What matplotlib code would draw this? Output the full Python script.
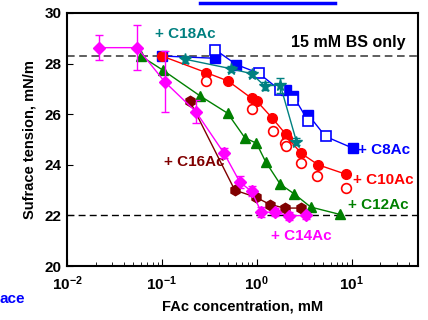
import matplotlib
matplotlib.use('Agg')
import matplotlib.pyplot as plt
from matplotlib.lines import Line2D

plt.rcParams['font.family'] = ['Liberation Sans', 'DejaVu Sans']
plt.rcParams['font.weight'] = 'bold'
plt.rcParams['mathtext.fontset'] = 'custom'
plt.rcParams['mathtext.rm'] = 'Liberation Sans:bold'
plt.rcParams['mathtext.bf'] = 'Liberation Sans:bold'

# C8Ac (filled and open squares, one line through all)
c8_x_f = [0.1, 0.367, 0.61, 2.05, 2.42, 3.5, 10.4]
c8_y_f = [28.3, 28.21, 27.96, 26.97, 26.72, 25.97, 24.65]
c8_x_o = [0.367, 1.05, 1.75, 2.42, 3.5, 5.3]
c8_y_o = [28.54, 27.62, 26.95, 26.56, 25.72, 25.12]

# C10Ac (filled circles joined, open circles alone)
c10_x_f = [0.1, 0.295, 0.5, 0.88, 1.0, 1.46, 2.03, 2.1, 2.95, 4.43, 8.8]
c10_y_f = [28.3, 27.64, 27.31, 26.63, 26.52, 25.84, 25.2, 25.07, 24.45, 24.0, 23.62]
c10_x_o = [0.29, 0.88, 1.49, 1.97, 2.03, 2.9, 4.3, 8.8]
c10_y_o = [27.33, 26.2, 25.34, 24.85, 24.75, 24.08, 23.55, 23.07]

# C12Ac
c12_x = [0.06, 0.1016, 0.251, 0.492, 0.748, 0.993, 1.24, 1.77, 2.46, 3.7, 7.5]
c12_y = [28.3, 27.75, 26.73, 26.04, 25.07, 24.85, 24.12, 23.23, 22.86, 22.33, 22.04]

# C14Ac with error bars
c14_x = [0.0217, 0.055, 0.107, 0.228, 0.453, 0.662, 0.88, 1.12, 1.55, 2.2, 3.3]
c14_y = [28.63, 28.63, 27.28, 26.1, 24.45, 23.32, 22.95, 22.12, 22.13, 21.98, 22.0]
c14_err = [0.5, 0.9, 1.2, 0.45, 0.2, 0.25, 0.2, 0.2, 0.15, 0.15, 0.15]

# C16Ac
c16_x = [0.197, 0.586, 0.975, 1.38, 1.97, 2.93]
c16_y = [26.52, 23.0, 22.72, 22.43, 22.29, 22.29]

# C18Ac with error bars
c18_x = [0.177, 0.53, 0.88, 1.21, 1.77, 2.62]
c18_y = [28.17, 27.8, 27.6, 27.12, 27.15, 24.92]
c18_err = [0.15, 0.12, 0.12, 0.15, 0.3, 0.15]

bs_only = 28.3
plateau = 22.0

fig = plt.figure(figsize=(4.28, 3.2), dpi=100)
ax = fig.add_axes([67/428, 1-266/320, (418-67)/428, (266-13)/320])

ax.axhline(bs_only, color='#333333', ls=(0, (5, 3)), lw=1.1, zorder=1)
ax.axhline(plateau, color='#000000', ls=(0, (5, 3)), lw=1.0, zorder=1)

blue = '#0000ff'
red = '#ff0000'
green = '#008000'
magenta = '#ff00ff'
maroon = '#800000'
teal = '#008080'

# C8Ac line through every point in order of concentration
c8_all = sorted(zip(c8_x_f + c8_x_o, c8_y_f + c8_y_o))
ax.plot([p[0] for p in c8_all], [p[1] for p in c8_all], color=blue, lw=1, zorder=2)
ax.plot(c8_x_f, c8_y_f, 's', color=blue, ms=6.5, zorder=3)
ax.plot(c8_x_o, c8_y_o, 's', mfc='white', mec=blue, mew=1.2, ms=6.5, zorder=3)

ax.errorbar(c18_x, c18_y, yerr=c18_err, color=teal, marker='*', ms=8.5, lw=1,
            capsize=3, elinewidth=1, zorder=4)

ax.plot(c10_x_f, c10_y_f, 'o-', color=red, ms=7, lw=1, zorder=4)
ax.plot(c10_x_o, c10_y_o, 'o', mfc='white', mec=red, mew=1.2, ms=7, ls='none', zorder=4)

ax.plot(c12_x, c12_y, '^-', color=green, ms=7, lw=1, zorder=4)

ax.errorbar(c14_x, c14_y, yerr=c14_err, color=magenta, marker='D', ms=6.5, lw=1,
            capsize=3, elinewidth=1, zorder=5)

ax.plot(c16_x, c16_y, 'h-', color=maroon, ms=7.5, lw=1, zorder=5)

ax.set_xscale('log')
ax.set_xlim(0.01, 50)
ax.set_ylim(20, 30)
ax.set_yticks([20, 22, 24, 26, 28, 30])
ax.set_xticks([0.01, 0.1, 1, 10])
ax.set_xticklabels([r'$\mathbf{10^{-2}}$', r'$\mathbf{10^{-1}}$', r'$\mathbf{10^{0}}$', r'$\mathbf{10^{1}}$'])
ax.tick_params(axis='both', which='both', direction='in', labelsize=11)
ax.tick_params(axis='x', which='major', length=5, pad=6)
ax.tick_params(axis='x', which='minor', length=3)
ax.tick_params(axis='y', which='major', length=4, pad=4)
for s in ax.spines.values():
    s.set_linewidth(1.5)

ax.set_xlabel('FAc concentration, mM', fontsize=10.5, fontweight='bold', labelpad=5)
ax.set_ylabel('Sufrace tension, mN/m', fontsize=10.5, fontweight='bold', labelpad=6)

ax.text(0.084, 29.17, '+ C18Ac', color=teal, fontsize=11, fontweight='bold', va='center')
ax.text(37, 28.85, '15 mM BS only', color='black', fontsize=11.5, fontweight='bold',
        va='center', ha='right')
ax.text(11.8, 24.6, '+ C8Ac', color=blue, fontsize=11, fontweight='bold', va='center')
ax.text(10.3, 23.4, '+ C10Ac', color=red, fontsize=11, fontweight='bold', va='center')
ax.text(9.2, 22.4, '+ C12Ac', color=green, fontsize=11, fontweight='bold', va='center')
ax.text(1.4, 21.2, '+ C14Ac', color=magenta, fontsize=11, fontweight='bold', va='center')
ax.text(0.104, 24.1, '+ C16Ac', color=maroon, fontsize=11, fontweight='bold', va='center')

# cropped pieces at the edges of the picture
fig.text(25/428, 1-299/320, 'ace', color=blue, fontsize=11, fontweight='bold',
         ha='right', va='center')
fig.add_artist(Line2D([200/428, 335/428], [1-3/320, 1-3/320], color=blue, lw=2.5))

fig.savefig('out.png', dpi=100)
